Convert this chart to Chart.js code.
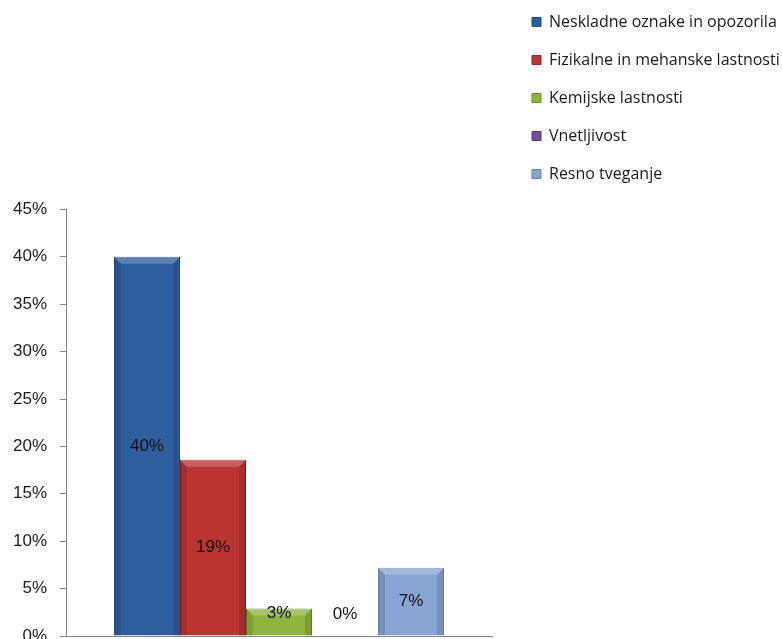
<!DOCTYPE html>
<html>
<head>
<meta charset="utf-8">
<script src="https://cdn.jsdelivr.net/npm/chart.js@4/dist/chart.umd.min.js"></script>
<style>
  html, body { margin: 0; padding: 0; background: #fff; overflow: hidden; }
  #wrap { width: 782px; height: 639px; overflow: hidden; position: relative; }
  #box { position: absolute; left: 0; top: -8px; width: 782px; height: 700px; }
</style>
</head>
<body>
<div id="wrap"><div id="box"><canvas id="chart"></canvas></div></div>
<script>
// podatki
const kategorije = ['Neskladne oznake in opozorila', 'Fizikalne in mehanske lastnosti', 'Kemijske lastnosti', 'Vnetljivost', 'Resno tveganje'];
const vrednosti = [40, 18.6, 2.9, 0, 7.2];
const oznake = ['40%', '19%', '3%', '0%', '7%'];
const barve = ['#2F5E9E', '#BA3532', '#8CB43E', '#7350A0', '#87A4D3'];
const robovi = ['#244A7E', '#8E2624', '#6A8A2C', '#553A7A', '#6882AE'];
const yTicks = [0, 5, 10, 15, 20, 25, 30, 35, 40, 45];

const FONT = "'Liberation Sans', Arial, sans-serif";

// oznake vrednosti na stolpcih
const oznakePlugin = {
    id: 'oznake',
    afterDatasetsDraw(chart) {
        const ctx = chart.ctx;
        ctx.save();
        ctx.font = '17px ' + FONT;
        ctx.fillStyle = '#111';
        ctx.textAlign = 'center';
        ctx.textBaseline = 'middle';
        chart.data.datasets.forEach((ds, i) => {
            const bar = chart.getDatasetMeta(i).data[0];
            if (!bar) return;
            const mid = (bar.y + bar.base) / 2;
            const y = Math.min(mid, bar.base - 22);
            ctx.fillText(oznake[i], bar.x, y);
        });
        ctx.restore();
    }
};

// rahel 3D rob na stolpcih
const robPlugin = {
    id: 'rob',
    afterDatasetsDraw(chart) {
        const ctx = chart.ctx;
        ctx.save();
        chart.data.datasets.forEach((ds, i) => {
            const bar = chart.getDatasetMeta(i).data[0];
            if (!bar || Math.abs(bar.base - bar.y) < 2) return;
            const l = bar.x - bar.width / 2, r = bar.x + bar.width / 2;
            const t = bar.y, b = bar.base;
            const s = Math.min(7, (b - t) / 2);
            ctx.fillStyle = 'rgba(255,255,255,0.22)';
            ctx.beginPath();
            ctx.moveTo(l, t); ctx.lineTo(r, t); ctx.lineTo(r - s, t + s); ctx.lineTo(l + s, t + s);
            ctx.closePath(); ctx.fill();
            ctx.fillStyle = 'rgba(0,0,0,0.12)';
            ctx.beginPath();
            ctx.moveTo(l, t); ctx.lineTo(l + s, t + s); ctx.lineTo(l + s, b); ctx.lineTo(l, b);
            ctx.closePath(); ctx.fill();
            ctx.beginPath();
            ctx.moveTo(r, t); ctx.lineTo(r - s, t + s); ctx.lineTo(r - s, b); ctx.lineTo(r, b);
            ctx.closePath(); ctx.fill();
        });
        ctx.restore();
    }
};

new Chart(document.getElementById('chart'), {
    type: 'bar',
    data: {
        labels: [''],
        datasets: kategorije.map((k, i) => ({
            label: k,
            data: [vrednosti[i]],
            backgroundColor: barve[i],
            borderColor: robovi[i],
            borderWidth: 1,
            barPercentage: 1,
            categoryPercentage: 0.775
        }))
    },
    options: {
        responsive: true,
        maintainAspectRatio: false,
        animation: false,
        layout: { padding: { top: 0, left: 0, right: 0, bottom: 56 } },
        plugins: {
            tooltip: { enabled: false },
            title: {
                display: true,
                text: ' ',
                fullSize: false,
                font: { size: 12 },
                padding: { top: 0, bottom: 203 }
            },
            legend: {
                position: 'right',
                align: 'start',
                maxWidth: 272,
                labels: {
                    boxWidth: 9,
                    boxHeight: 9,
                    padding: 22,
                    color: '#1a1a1a',
                    font: { family: "'Open Sans', sans-serif", size: 16 }
                }
            }
        },
        scales: {
            x: {
                ticks: { display: false },
                grid: { display: false, drawTicks: false },
                border: { display: true, color: '#868686' }
            },
            y: {
                min: 0,
                max: 45,
                afterBuildTicks: s => { s.ticks = yTicks.map(v => ({ value: v })); },
                ticks: {
                    padding: 13,
                    color: '#1a1a1a',
                    font: { family: FONT, size: 17 },
                    callback: v => v + '%'
                },
                grid: { drawOnChartArea: false, drawTicks: true, tickLength: 6, color: '#868686' },
                border: { display: true, color: '#868686' }
            },
            y2: {
                position: 'right',
                display: true,
                ticks: { display: false },
                grid: { display: false, drawTicks: false },
                border: { display: false },
                afterFit: s => { s.width = 18; }
            }
        }
    },
    plugins: [robPlugin, oznakePlugin]
});
</script>
</body>
</html>
